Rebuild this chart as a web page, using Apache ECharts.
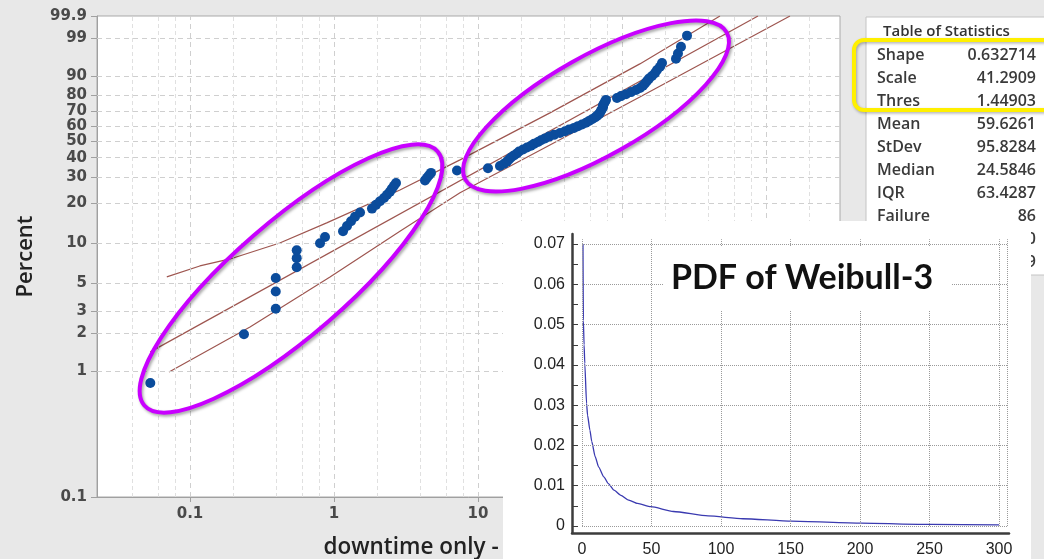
<!DOCTYPE html>
<html>
<head>
<meta charset="utf-8">
<script src="https://cdn.jsdelivr.net/npm/echarts@6/dist/echarts.min.js"></script>
<style>
html, body { margin: 0; padding: 0; background: #e8e8e8; }
#main { position: absolute; left: 0; top: 0; width: 1044px; height: 559px; }
#inset { position: absolute; left: 503px; top: 221px; width: 528px; height: 338px; background: #fff; }
</style>
</head>
<body>
<div id="main"></div>
<div id="inset"></div>
<script>
var myChart1 = echarts.init(document.getElementById('main'));
var myChart2 = echarts.init(document.getElementById('inset'));

// 概率图数据 (downtime - threshold, percent)
var downtime = [
    0.053, 0.237, 0.394, 0.394, 0.394, 0.551, 0.551, 0.551, 0.80, 0.866,
    1.155, 1.231, 1.313, 1.399, 1.516, 1.836, 1.957, 2.086, 2.224, 2.334,
    2.448, 2.527, 2.610, 2.695, 4.285, 4.425, 4.569, 4.716, 7.149, 11.73,
    14.21, 15.16, 15.90, 16.42, 16.95, 17.78, 18.66, 19.27, 20.54, 21.89,
    23.34, 24.48, 26.11, 27.38, 29.20, 31.12, 33.72, 37.10, 40.20, 42.85,
    46.42, 49.48, 52.76, 56.23, 58.99, 61.89, 64.94, 67.06, 69.24, 70.36,
    71.49, 72.63, 73.80, 73.80, 74.99, 76.19, 77.43, 92.33, 98.42, 106.6,
    115.5, 125.1, 133.4, 139.9, 144.4, 149.2, 154.0, 161.6, 169.5, 175.1,
    183.6, 189.6, 237.1, 244.8, 256.8, 282.8
];
var percent = [
    0.81, 1.97, 3.13, 4.28, 5.44, 6.60, 7.75, 8.91, 10.07, 11.23,
    12.38, 13.54, 14.70, 15.86, 17.01, 18.17, 19.33, 20.49, 21.64, 22.80,
    23.96, 25.12, 26.27, 27.43, 28.59, 29.75, 30.90, 32.06, 33.22, 34.38,
    35.53, 36.69, 37.85, 39.00, 40.16, 41.32, 42.48, 43.63, 44.79, 45.95,
    47.11, 48.26, 49.42, 50.58, 51.74, 52.89, 54.05, 55.21, 56.37, 57.52,
    58.68, 59.84, 61.00, 62.15, 63.31, 64.47, 65.63, 66.78, 67.94, 69.10,
    70.25, 71.41, 72.57, 73.73, 74.88, 76.04, 77.20, 78.36, 79.51, 80.67,
    81.83, 82.99, 84.14, 85.30, 86.46, 87.62, 88.77, 89.93, 91.09, 92.25,
    93.40, 94.56, 95.72, 96.88, 98.03, 99.19
];
// 拟合线和置信带
var fitX = [0.053, 880];
var fitPct = [1.43, 99.9];
var upperX = [0.069, 0.117, 0.19, 0.42, 0.89, 2.87, 7.5, 31.6, 133, 479];
var upperPct = [5.55, 6.75, 7.64, 10.1, 14.3, 24.6, 38.8, 68.8, 94.3, 99.9];
var lowerX = [0.0715, 0.261, 0.938, 2.87, 7.5, 31.6, 133, 1468];
var lowerPct = [0.99, 2.25, 5.55, 12.4, 23.5, 47.6, 79.0, 99.9];

// 坐标轴刻度
var yTickLabels = [0.1, 1, 2, 3, 5, 10, 20, 30, 40, 50, 60, 70, 80, 90, 99, 99.9];
var xTickLabels = [0.1, 1, 10, 100, 1000];
var xMinorGrid = [0.04, 0.06, 0.08, 0.2, 0.4, 0.6, 0.8, 2, 4, 6, 8, 20, 40, 60, 80, 200, 400, 600, 800, 2000];

// 统计表
var statNames = ['Shape', 'Scale', 'Thres', 'Mean', 'StDev', 'Median', 'IQR', 'Failure', 'Censor', 'AD*'];
var statValues = ['0.632714', '41.2909', '1.44903', '59.6261', '95.8284', '24.5846', '63.4287', '86', '0', '1.179'];

// PDF 曲线
var pdfX = [0.7, 1.0, 1.5, 2.0, 3.3, 4.0, 5.7, 7.0, 9.5, 12, 15.7, 19, 23, 28, 33, 40, 49.5, 65.8, 90.7, 115.7, 150.8, 200.8, 250.8, 300];
var pdfY = [0.0700, 0.0510, 0.0450, 0.0404, 0.0304, 0.0275, 0.0238, 0.0210, 0.0172, 0.0146, 0.0122, 0.0105, 0.0089, 0.0076, 0.0065, 0.0056, 0.0048, 0.0036, 0.0025, 0.0018, 0.0012, 0.0007, 0.0004, 0.0003];
var pdfXTicks = [0, 50, 100, 150, 200, 250, 300];
var pdfYTicks = [0, 0.01, 0.02, 0.03, 0.04, 0.05, 0.06, 0.07];
var pdfYMinor = [0, 0.005, 0.01, 0.015, 0.02, 0.025, 0.03, 0.035, 0.04, 0.045, 0.05, 0.055, 0.06, 0.065, 0.07];

// Weibull 概率坐标变换
function wb(p) { return Math.log(-Math.log(1 - p / 100)); }
function lg(x) { return Math.log(x) / Math.LN10; }
function pairs(xs, ps) {
    return xs.map(function (x, i) { return [lg(x), wb(ps[i])]; });
}
function nearest(list, v, f) {
    var best = list[0], d = 1e9;
    list.forEach(function (t) {
        var e = Math.abs(f(t) - v);
        if (e < d) { d = e; best = t; }
    });
    return String(best);
}

var font = 'Open Sans';
var tickFont = 'DejaVu Sans';
var gridLines = [];
yTickLabels.slice(1, -1).forEach(function (p) { gridLines.push({ yAxis: wb(p) }); });
xTickLabels.forEach(function (x) { gridLines.push({ xAxis: lg(x) }); });
xMinorGrid.forEach(function (x) {
    gridLines.push({ xAxis: lg(x), lineStyle: { color: '#e0e0e0', type: [4, 3], width: 1 } });
});

var bandStyle = { color: '#9e5650', width: 1.2 };

var graphics = [
    { type: 'rect', z: 1, shape: { x: 866, y: 17, width: 200, height: 258 },
      style: { fill: '#fff', stroke: '#c4c4c4', lineWidth: 1 } },
    { type: 'text', z: 2, x: 883, y: 32,
      style: { text: 'Table of Statistics', font: '600 15px "' + font + '"', fill: '#333', verticalAlign: 'middle' } }
];
statNames.forEach(function (n, i) {
    var yy = 55 + i * 23;
    graphics.push({ type: 'text', z: 2, x: 877, y: yy,
        style: { text: n, font: '600 16px "' + font + '"', fill: '#3a3a3a', verticalAlign: 'middle' } });
    graphics.push({ type: 'text', z: 2, x: 1036, y: yy,
        style: { text: statValues[i], font: '600 16px "' + font + '"', fill: '#3a3a3a', align: 'right', verticalAlign: 'middle' } });
});
var markStyle = { fill: 'none', stroke: '#c800ff', lineWidth: 4,
    shadowBlur: 3, shadowColor: 'rgba(0,0,0,0.35)', shadowOffsetX: 1.5, shadowOffsetY: 2 };
graphics.push({ type: 'ellipse', z: 100, x: 291, y: 278.5, rotation: 40.9 * Math.PI / 180,
    shape: { cx: 0, cy: 0, rx: 194, ry: 57 }, style: markStyle });
graphics.push({ type: 'ellipse', z: 100, x: 596, y: 106, rotation: 29.4 * Math.PI / 180,
    shape: { cx: 0, cy: 0, rx: 150, ry: 50 }, style: markStyle });
graphics.push({ type: 'rect', z: 100, shape: { x: 854, y: 40, width: 220, height: 70, r: 10 },
    style: { fill: 'none', stroke: '#fff000', lineWidth: 4,
        shadowBlur: 3, shadowColor: 'rgba(0,0,0,0.3)', shadowOffsetX: 1, shadowOffsetY: 1.5 } });

myChart1.setOption({
    animation: false,
    backgroundColor: '#e8e8e8',
    grid: { left: 97, top: 16, width: 743, height: 481, show: true, outerBoundsMode: 'none',
        backgroundColor: '#fff', borderColor: '#a9a9a9', borderWidth: 1 },
    xAxis: {
        type: 'value', min: lg(0.0226), max: lg(3266),
        name: 'downtime only - Threshold', nameLocation: 'middle', nameGap: 39,
        nameTextStyle: { fontFamily: font, fontSize: 22.5, fontWeight: 600, color: '#222' },
        axisLine: { onZero: false, lineStyle: { color: '#a0a0a0' } },
        axisTick: { customValues: xTickLabels.map(lg), length: 5, lineStyle: { color: '#a0a0a0' } },
        axisLabel: { customValues: xTickLabels.map(lg), margin: 10, fontFamily: tickFont, fontSize: 15, fontWeight: 600, color: '#4a4a4a',
            formatter: function (v) { return nearest(xTickLabels, v, lg); } },
        splitLine: { show: false }
    },
    yAxis: {
        type: 'value', min: wb(0.1), max: wb(99.9),
        name: 'Percent', nameLocation: 'middle', nameGap: 60,
        nameTextStyle: { fontFamily: font, fontSize: 22, fontWeight: 600, color: '#222' },
        axisLine: { onZero: false, lineStyle: { color: '#a0a0a0' } },
        axisTick: { customValues: yTickLabels.map(wb), length: 6, lineStyle: { color: '#a0a0a0' } },
        axisLabel: { customValues: yTickLabels.map(wb), margin: 10, fontFamily: tickFont, fontSize: 15, fontWeight: 600, color: '#4a4a4a',
            formatter: function (v) { return nearest(yTickLabels, v, wb); } },
        splitLine: { show: false }
    },
    series: [
        {
            type: 'line', data: pairs(fitX, fitPct), symbol: 'none', lineStyle: bandStyle, z: 3,
            markLine: {
                silent: true, symbol: ['none', 'none'], animation: false,
                label: { show: false },
                lineStyle: { color: '#cfcfcf', type: [5, 4], width: 1 },
                data: gridLines
            }
        },
        { type: 'line', data: pairs(upperX, upperPct), symbol: 'none', lineStyle: bandStyle, z: 3 },
        { type: 'line', data: pairs(lowerX, lowerPct), symbol: 'none', lineStyle: bandStyle, z: 3 },
        {
            type: 'scatter', data: pairs(downtime, percent), symbolSize: 10, z: 5,
            itemStyle: { color: '#0b4c9c', opacity: 1 }
        }
    ],
    graphic: graphics
});

// PDF 插图
var pdfLines = [];
pdfYTicks.forEach(function (y) { pdfLines.push([{ coord: [0, y] }, { coord: [305.8, y] }]); });
pdfXTicks.concat([305.8]).forEach(function (x) { pdfLines.push([{ coord: [x, 0] }, { coord: [x, 0.0712] }]); });

myChart2.setOption({
    animation: false,
    backgroundColor: '#fff',
    grid: { left: 69, top: 13, width: 437, height: 299, outerBoundsMode: 'none' },
    xAxis: {
        type: 'value', min: -7.19, max: 307.2,
        axisLine: { onZero: false, lineStyle: { color: '#3c3c3c', width: 2.5 } },
        axisTick: { show: false },
        axisLabel: { customValues: pdfXTicks, margin: 9, fontFamily: 'Liberation Sans', fontSize: 16, color: '#222' },
        splitLine: { show: false }
    },
    yAxis: {
        type: 'value', min: -0.00174, max: 0.0725,
        axisLine: { onZero: false, lineStyle: { color: '#3c3c3c', width: 2.5 } },
        axisTick: { customValues: pdfYMinor, inside: true, length: 6, lineStyle: { color: '#3c3c3c' } },
        axisLabel: { customValues: pdfYTicks, margin: 7, fontFamily: 'Liberation Sans', fontSize: 16, color: '#222',
            formatter: function (v) { return v === 0 ? '0' : v.toFixed(2); } },
        splitLine: { show: false }
    },
    series: [{
        type: 'line',
        data: pdfX.map(function (x, i) { return [x, pdfY[i]]; }),
        symbol: 'none', smooth: 0.2, smoothMonotone: 'x',
        lineStyle: { color: '#3a3ab0', width: 1.3 },
        markLine: {
            silent: true, symbol: ['none', 'none'], animation: false,
            label: { show: false },
            lineStyle: { color: '#9a9a9a', type: 'dotted', width: 1 },
            data: pdfLines
        }
    }],
    graphic: [
        { type: 'rect', z: 10, shape: { x: 160, y: 26, width: 288, height: 63 }, style: { fill: '#fff' } },
        { type: 'text', z: 11, x: 299, y: 57,
          style: { text: 'PDF of Weibull-3', font: 'bold 34px Lato', fill: '#111', align: 'center', verticalAlign: 'middle' } }
    ]
});
</script>
</body>
</html>
